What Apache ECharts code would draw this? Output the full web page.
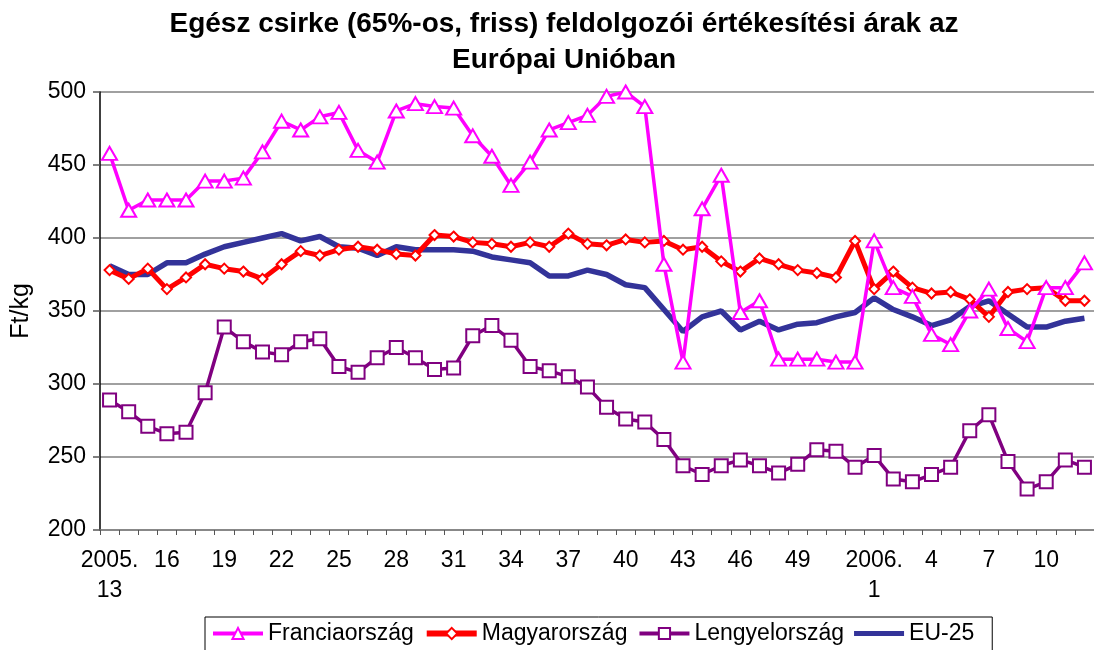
<!DOCTYPE html>
<html><head><meta charset="utf-8">
<script src="https://cdn.jsdelivr.net/npm/echarts@6/dist/echarts.min.js"></script>
<style>html,body{margin:0;padding:0;background:#fff}#c{width:1094px;height:650px}</style>
</head><body><div id="c"></div>
<script>
const categories = ["2005.\n13","14","15","16","17","18","19","20","21","22","23","24","25","26","27","28","29","30","31","32","33","34","35","36","37","38","39","40","41","42","43","44","45","46","47","48","49","50","51","52",
  "2006.\n1","2","3","4","5","6","7","8","9","10","11","12"];
const labeledIdx = [0,3,6,9,12,15,18,21,24,27,30,33,36,40,43,46,49];
const seriesNames = ["Franciaország","Magyarország","Lengyelország","EU-25"];
const franciaorszag = [458,419,426,426,426,439,439,441,459,480,474,483,486,460,452,487,492,490,489,470,456,436,452,474,479,484,497,500,490,382,315,420,443,349,357,317,317,317,315,315,398,366,360,334,327,350,365,338,329,366,366,383];
const magyarorszag = [378,372,379,365,373,382,379,377,372,382,391,388,392,394,392,389,388,402,401,397,396,394,397,394,403,396,395,399,397,398,392,394,384,377,386,382,378,376,373,398,365,377,366,362,363,358,346,363,365,366,357,357];
const lengyelorszag = [289,281,271,266,267,294,339,329,322,320,329,331,312,308,318,325,318,310,311,333,340,330,312,309,305,298,284,276,274,262,244,238,244,248,244,239,245,255,254,243,251,235,233,238,243,268,279,247,228,233,248,243];
const eu25 = [381,375,375,383,383,389,394,397,400,403,398,401,394,393,388,394,392,392,392,391,387,385,383,374,374,378,375,368,366,351,336,346,350,337,343,337,341,342,346,349,359,351,346,340,344,353,357,348,339,339,343,345];
const yMin = 200, yMax = 500, yStep = 50;

const FONT = "'Liberation Sans', Arial, sans-serif";
const C_FR = '#FF00FF', C_HU = '#FF0000', C_PL = '#800080', C_EU = '#333399';
const chart = echarts.init(document.getElementById('c'), null, {renderer: 'canvas'});
chart.setOption({
  animation: false,
  backgroundColor: '#fff',
  textStyle: {fontFamily: FONT, color: '#000'},
  title: {
    text: 'Egész csirke (65%-os, friss) feldolgozói értékesítési árak az\nEurópai Unióban',
    left: 559, top: 1, textAlign: 'center',
    textStyle: {fontFamily: FONT, fontSize: 28, fontWeight: 'bold', color: '#000', lineHeight: 36}
  },
  grid: {left: 100, top: 92, width: 998, height: 438, containLabel: false},
  xAxis: {
    type: 'category', data: categories, boundaryGap: true,
    axisLine: {lineStyle: {color: '#808080', width: 1.5}},
    axisTick: {show: true, interval: 0, length: 5, lineStyle: {color: '#555', width: 1}},
    axisLabel: {interval: (i) => labeledIdx.includes(i), fontFamily: FONT, fontSize: 23, color: '#000', lineHeight: 30, margin: 16}
  },
  yAxis: {
    type: 'value', min: yMin, max: yMax, interval: yStep,
    name: 'Ft/kg', nameLocation: 'middle', nameRotate: 90, nameGap: 66,
    nameTextStyle: {fontFamily: FONT, fontSize: 25, color: '#000'},
    axisLine: {show: true, lineStyle: {color: '#000', width: 1.5}},
    axisTick: {show: true, length: 7, lineStyle: {color: '#555', width: 1.5}},
    splitLine: {show: true, lineStyle: {color: '#808080', width: 1.5}},
    axisLabel: {fontFamily: FONT, fontSize: 23, color: '#000', margin: 14}
  },
  legend: {
    data: [
      {name: seriesNames[0], lineStyle: {width: 4}},
      {name: seriesNames[1], lineStyle: {width: 6}},
      {name: seriesNames[2], lineStyle: {width: 4}},
      {name: seriesNames[3], icon: 'path://M0,0M0,14M0,4.5H50V9.5H0Z'}
    ],
    left: 205, top: 617, orient: 'horizontal',
    itemGap: 10, itemWidth: 50, itemHeight: 14,
    borderColor: '#000', borderWidth: 1, padding: [5, 18, 12, 6],
    textStyle: {fontFamily: FONT, fontSize: 23, color: '#000'}
  },
  series: [
    {name: seriesNames[0], type: 'line', data: franciaorszag, z: 5, color: C_FR, showAllSymbol: true,
     lineStyle: {color: C_FR, width: 3.5}, symbol: 'triangle', symbolSize: [15, 13],
     itemStyle: {color: '#fff', borderColor: C_FR, borderWidth: 2}},
    {name: seriesNames[1], type: 'line', data: magyarorszag, z: 4, color: C_HU, showAllSymbol: true,
     lineStyle: {color: C_HU, width: 5}, symbol: 'diamond', symbolSize: 10,
     itemStyle: {color: '#fff', borderColor: C_HU, borderWidth: 2}},
    {name: seriesNames[2], type: 'line', data: lengyelorszag, z: 3, color: C_PL, showAllSymbol: true,
     lineStyle: {color: C_PL, width: 3.5}, symbol: 'rect', symbolSize: 13,
     itemStyle: {color: '#fff', borderColor: C_PL, borderWidth: 2}},
    {name: seriesNames[3], type: 'line', data: eu25, z: 2, color: C_EU,
     lineStyle: {color: C_EU, width: 5.5}, symbol: 'none', showSymbol: false}
  ]
});
</script></body></html>
